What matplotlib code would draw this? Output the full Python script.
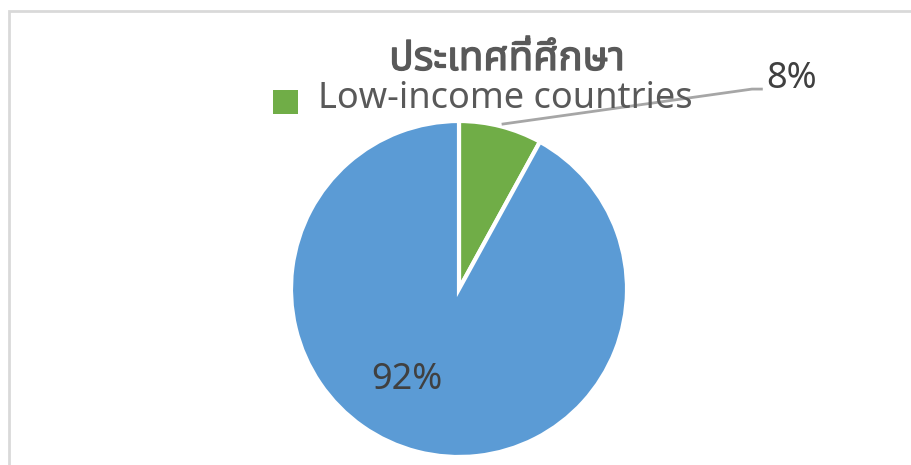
import matplotlib
matplotlib.use("Agg")
import matplotlib.pyplot as plt
import matplotlib.patheffects as pe
from matplotlib.patches import Rectangle
from matplotlib.lines import Line2D

# ข้อมูลสัดส่วนประเทศที่ศึกษา
categories = ["Low-income countries", "Other countries"]
shares = [8, 92]
colors = ["#70AD47", "#5B9BD5"]
title = "ประเทศที่ศึกษา"

W, H = 912, 465
fonts = ["Noto Sans Thai", "Noto Sans", "DejaVu Sans"]
text_color = "#404040"
title_color = "#595959"

fig = plt.figure(figsize=(W / 100, H / 100), dpi=100)
fig.patch.set_facecolor("white")

# กรอบของแผนภูมิ
fig.patches.append(Rectangle((9 / W, -0.1), 1.2, (H - 11) / H + 0.1,
                             transform=fig.transFigure, fill=False,
                             edgecolor="#D9D9D9", linewidth=2))

# วงกลม: จุดศูนย์กลาง (459, 289) รัศมี 168 px
cx, cy, r = 459, 289, 168
ax = fig.add_axes([(cx - r) / W, (H - cy - r) / H, 2 * r / W, 2 * r / H])
wedges, texts, autotexts = ax.pie(
    shares, colors=colors, startangle=90, counterclock=False,
    autopct="%1.0f%%", pctdistance=0.6,
    wedgeprops=dict(edgecolor="white", linewidth=3),
    textprops=dict(color=text_color, fontsize=26, fontweight="light",
                   family=fonts))
ax.set_xlim(-1, 1)
ax.set_ylim(-1, 1)
ax.set_aspect("equal")
ax.axis("off")

# ป้ายค่าร้อยละ
autotexts[0].set_position((1.98, 1.25))
autotexts[1].set_position((-0.31, -0.54))
for t in autotexts:
    t.set_clip_on(False)

# เส้นนำของป้าย 8%
ax.add_line(Line2D([0.262, 1.744, 1.8], [0.982, 1.19, 1.19],
                   color="#A6A6A6", linewidth=2, clip_on=False))

# ชื่อแผนภูมิ
fig.text(507 / W, 1 - 60 / H, title, ha="center", va="center",
         fontsize=29, fontweight="bold", color=title_color, family=fonts,
         path_effects=[pe.withStroke(linewidth=1.0, foreground=title_color)])

# คำอธิบายสัญลักษณ์
fig.patches.append(Rectangle((273 / W, 1 - 114 / H), 25 / W, 24 / H,
                             transform=fig.transFigure,
                             facecolor=colors[0], edgecolor="none"))
fig.text(318 / W, 1 - 99 / H, categories[0], ha="left", va="center",
         fontsize=26, fontweight="light", color=title_color, family=fonts)

fig.savefig("out.png", dpi=100)
